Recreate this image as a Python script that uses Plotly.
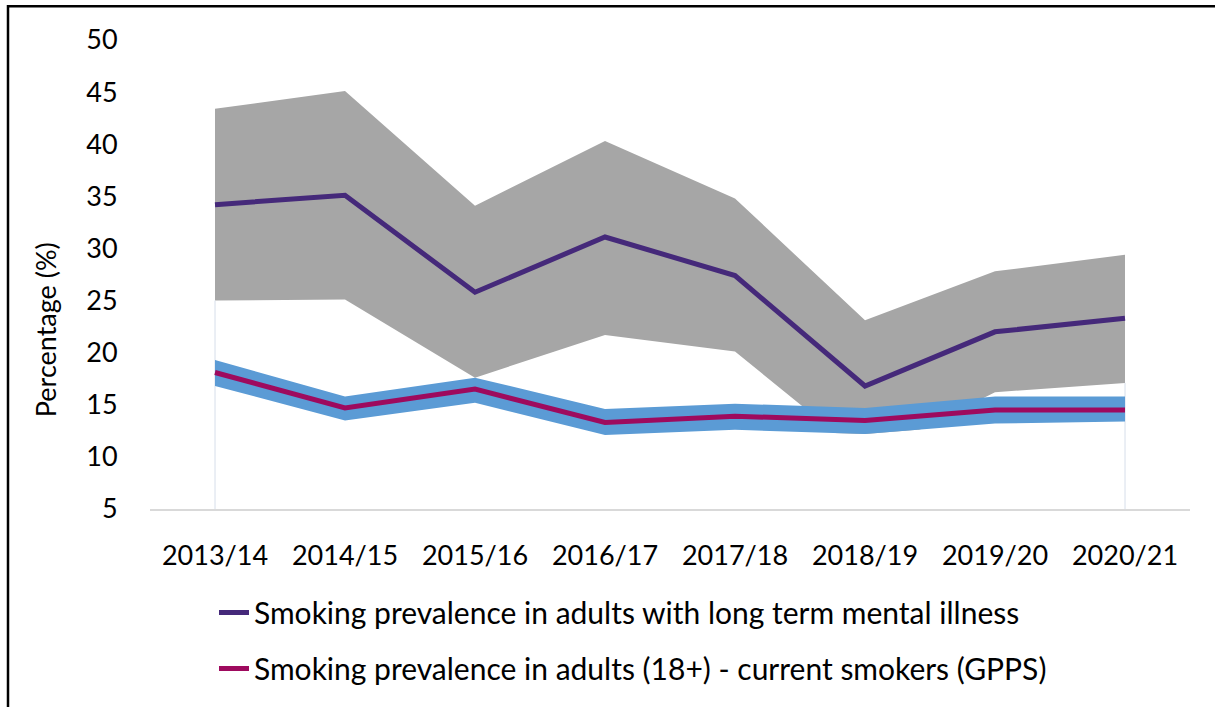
import plotly.graph_objects as go

categories = ['2013/14', '2014/15', '2015/16', '2016/17', '2017/18', '2018/19', '2019/20', '2020/21']
smi = [34.2, 35.1, 25.8, 31.1, 27.4, 16.8, 22.0, 23.3]
smi_upper = [43.4, 45.1, 34.1, 40.3, 34.8, 23.1, 27.8, 29.4]
smi_lower = [25.0, 25.1, 17.6, 21.7, 20.1, 10.0, 16.2, 17.1]
gpps = [18.1, 14.7, 16.5, 13.3, 13.9, 13.5, 14.5, 14.5]
gpps_upper = [19.3, 15.8, 17.6, 14.6, 15.1, 14.7, 15.8, 15.8]
gpps_lower = [16.8, 13.5, 15.2, 12.1, 12.6, 12.2, 13.2, 13.4]
y_ticks = [5, 10, 15, 20, 25, 30, 35, 40, 45, 50]

FONT = "Lato"
W, H = 1215, 707
ML, MR, MT, MB = 150, 25, 40, 195
PW, PH = W - ML - MR, H - MT - MB

def px_x(p):
    return (p - ML) / PW

def px_y(p):
    return (H - MB - p) / PH

fig = go.Figure()

# grey confidence band for SMI
fig.add_trace(go.Scatter(
    x=categories + categories[::-1], y=smi_upper + smi_lower[::-1],
    fill='toself', fillcolor='#A6A6A6', line=dict(width=0), mode='lines',
    showlegend=False, hoverinfo='skip'))
# white area beneath GPPS band
fig.add_trace(go.Scatter(
    x=categories, y=gpps_lower, fill='tozeroy', fillcolor='white',
    line=dict(width=0), mode='lines', showlegend=False, hoverinfo='skip'))
# thin edge lines of the lower area
fig.add_trace(go.Scatter(
    x=[categories[0], categories[0], None, categories[-1], categories[-1]],
    y=[y_ticks[0], smi_lower[0], None, y_ticks[0], smi_lower[-1]],
    mode='lines', line=dict(color='#D6DEEA', width=1),
    showlegend=False, hoverinfo='skip'))
# blue confidence band for GPPS
fig.add_trace(go.Scatter(
    x=categories + categories[::-1], y=gpps_upper + gpps_lower[::-1],
    fill='toself', fillcolor='#5B9BD5', line=dict(width=0), mode='lines',
    showlegend=False, hoverinfo='skip'))

fig.add_trace(go.Scatter(
    x=categories, y=smi, mode='lines',
    line=dict(color='#45297A', width=5),
    name='Smoking prevalence in adults with long term mental illness',
    legendgroup='a'))
fig.add_trace(go.Scatter(
    x=categories, y=gpps, mode='lines',
    line=dict(color='#9E0A5E', width=5),
    name='Smoking prevalence in adults (18+) - current smokers (GPPS)',
    legendgroup='b'))

fig.update_layout(
    width=W, height=H,
    margin=dict(l=ML, r=MR, t=MT, b=MB),
    paper_bgcolor='white', plot_bgcolor='white',
    font=dict(family=FONT, size=27, color='black'),
    showlegend=True,
    legend=dict(x=px_x(214), y=px_y(590), xanchor='left', yanchor='top',
                font=dict(family=FONT, size=30, color='black'),
                tracegroupgap=14, bgcolor='rgba(0,0,0,0)'),
    xaxis=dict(type='category', range=[-0.5, 7.5], showgrid=False,
               showline=True, linecolor='#D9D9D9', linewidth=2,
               ticks='outside', ticklen=22, tickcolor='rgba(0,0,0,0)',
               tickfont=dict(family=FONT, size=27, color='black'),
               zeroline=False, fixedrange=True),
    yaxis=dict(range=[5, 50], tickvals=y_ticks, showgrid=False,
               showline=False, zeroline=False,
               ticks='outside', ticklen=26, tickcolor='rgba(0,0,0,0)',
               tickfont=dict(family=FONT, size=27, color='black'),
               fixedrange=True),
    annotations=[dict(text='Percentage (%)', textangle=-90, showarrow=False,
                      xref='paper', yref='paper', x=px_x(45), y=px_y(332),
                      xanchor='center', yanchor='middle',
                      font=dict(family=FONT, size=27, color='black'))],
    shapes=[dict(type='rect', xref='paper', yref='paper',
                 x0=px_x(8), x1=px_x(1300), y0=px_y(800), y1=px_y(6),
                 line=dict(color='black', width=2.5), fillcolor='rgba(0,0,0,0)',
                 layer='above')],
)

fig.write_html('out.html')
